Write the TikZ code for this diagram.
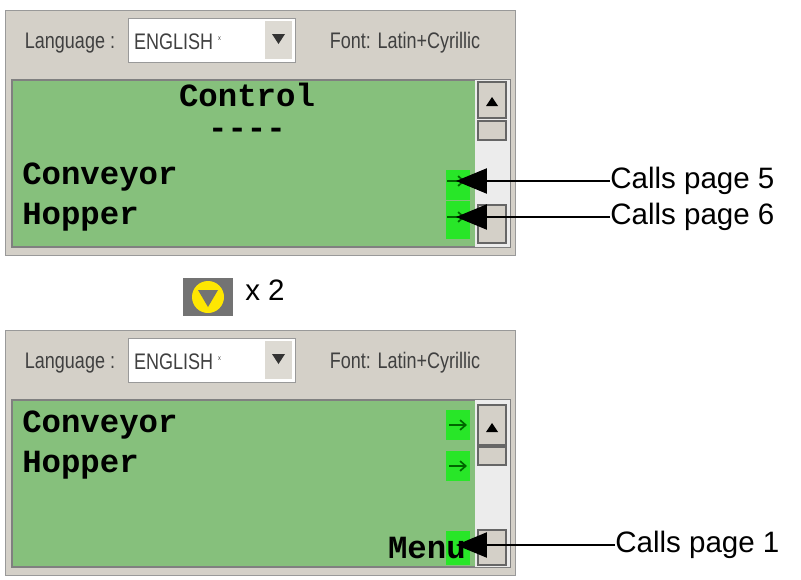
\documentclass[tikz,border=0pt]{standalone}
\usepackage{fontspec}
\setmainfont{Liberation Sans}
\newfontfamily\monofont{Liberation Mono}
\usetikzlibrary{arrows.meta,calc}
\definecolor{panelgray}{RGB}{212,208,200}
\definecolor{lcdgreen}{RGB}{134,192,124}
\definecolor{hotgreen}{RGB}{40,230,40}
\definecolor{barwhite}{RGB}{236,236,236}
\tikzset{
  lcdtext/.style={font=\monofont\bfseries\fontsize{23}{23}\selectfont, inner sep=0pt},
  hdrtext/.style={font=\fontsize{16}{16}\selectfont, xscale=0.8, inner sep=0pt, text=black!75},
  calltext/.style={font=\fontsize{21}{21}\selectfont, inner sep=0pt, anchor=west},
  callarrow/.style={-{Triangle[length=22pt,width=18pt]}, thick},
  hotkey/.style={fill=hotgreen, minimum width=0.6cm, inner sep=0pt},
  keyarrow/.style={-{Straight Barb[length=4pt,width=7pt]}, very thick, black!60!green},
  sbtn/.style={fill=panelgray, draw=black!60, thick}
}
% one window: header, lcd field and scroll bar, top edge at #1
\newcommand{\lcdpanel}[1]{
  \fill[panelgray] (5,#1) rectangle (515,#1+245);
  \draw[black!40] (5,#1) rectangle (515,#1+245);
  \node[hdrtext] at (70,#1+33) {Language :};
  \fill[white] (128,#1+8) rectangle (295,#1+52);
  \draw[black!40] (128,#1+8) rectangle (295,#1+52);
  \fill[panelgray!80] (265,#1+11) rectangle (292,#1+49);
  \fill[black!80] (272,#1+24) -- (285,#1+24) -- (278.5,#1+34) -- cycle;
  \node[hdrtext, anchor=west] at (134,#1+32) {ENGLISH \textsuperscript{\tiny x}};
  \node[hdrtext] at (405,#1+33) {Font: Latin+Cyrillic};
  \fill[lcdgreen] (12,#1+70) rectangle (475,#1+237);
  \draw[black!50, thick] (12,#1+70) rectangle (510,#1+237);
  \fill[barwhite] (475,#1+70) rectangle (510,#1+237);
}
\begin{document}
\begin{tikzpicture}[x=0.025cm,y=-0.025cm]
\useasboundingbox (0,0) rectangle (801,579);
% top window
\lcdpanel{10}
\draw[sbtn] (478,82) rectangle (506,118);
\fill (486,106) -- (498,106) -- (492,97) -- cycle;
\draw[sbtn] (478,121) rectangle (506,140);
\draw[sbtn] (478,205) rectangle (506,243);
\node[lcdtext] (ctrl) at (247,95) {Control};
\node[lcdtext] (dash) at (247,133) {----};
\node[lcdtext, anchor=west] (conv1) at (22,177) {Conveyor};
\node[lcdtext, anchor=west] (hop1) at (22,217) {Hopper};
\node[hotkey, minimum height=0.75cm] (k1) at (458,185) {};
\node[hotkey, minimum height=0.95cm] (k2) at (458,220) {};
\coordinate (t5) at (456,181);
\coordinate (t6) at (456,217);
\node[calltext] (c5) at (610,181) {Calls page 5};
\node[calltext] (c6) at (610,217) {Calls page 6};
\foreach \k in {t5,t6}
  \draw[keyarrow] ($(\k)+(-9,0)$) -- ($(\k)+(9,0)$);
\draw[callarrow] (c5.west) -- (t5);
\draw[callarrow] (c6.west) -- (t6);
% scroll key
\node[fill=black!55, minimum width=1.25cm, minimum height=0.95cm, inner sep=0pt] (key) at (208,297) {};
\fill[yellow!90!orange] (key.center) circle[radius=16];
\fill[black!55] ($(key.center)+(-10,-7)$) -- ++(20,0) -- ++(-10,17) -- cycle;
\node[font=\fontsize{21}{21}\selectfont, anchor=west, inner sep=0pt] (times) at (245,290) {x 2};
% bottom window
\lcdpanel{330}
\draw[sbtn] (478,405) rectangle (506,445);
\fill (486,432) -- (498,432) -- (492,423) -- cycle;
\draw[sbtn] (478,447) rectangle (506,465);
\draw[sbtn] (478,530) rectangle (506,565);
\node[lcdtext, anchor=west] (conv2) at (22,425) {Conveyor};
\node[lcdtext, anchor=west] (hop2) at (22,465) {Hopper};
\node[hotkey, minimum height=0.75cm] (k3) at (458,425) {};
\node[hotkey, minimum height=0.75cm] (k4) at (458,466) {};
\node[hotkey, minimum height=0.85cm] (k5) at (458,548) {};
\node[lcdtext, anchor=east] (menu) at (466,548) {Menu};
\foreach \k in {k3,k4}
  \draw[keyarrow] ($(\k.center)+(-9,0)$) -- ($(\k.center)+(9,0)$);
\coordinate (t1) at (456,545);
\node[calltext] (c1) at (615,545) {Calls page 1};
\draw[callarrow] (c1.west) -- (t1);
\end{tikzpicture}
\end{document}
